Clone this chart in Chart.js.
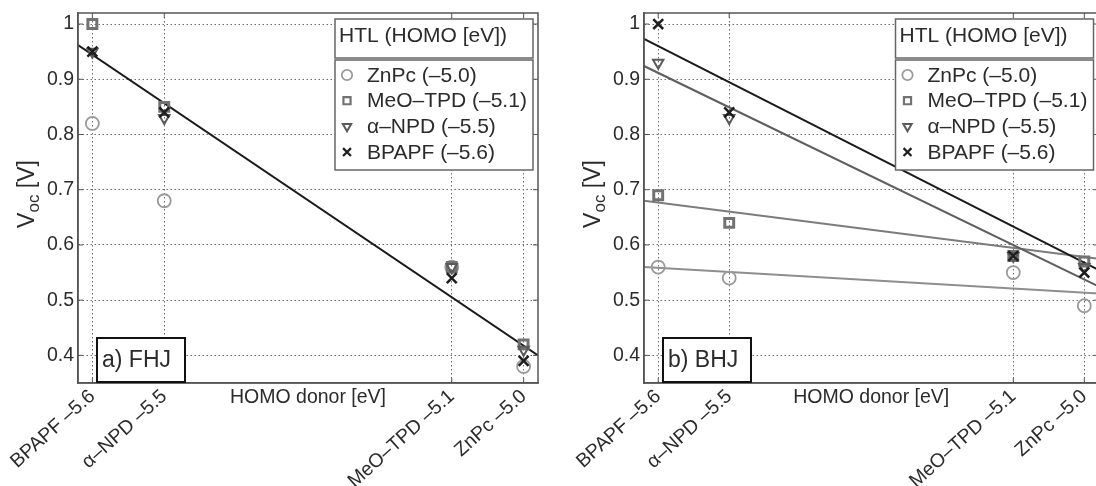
<!DOCTYPE html>
<html>
<head>
<meta charset="utf-8">
<script src="https://cdn.jsdelivr.net/npm/chart.js@4.4.1/dist/chart.umd.min.js"></script>
<style>
    html, body { margin: 0; padding: 0; background: #fff; overflow: hidden; width: 1096px; height: 486px; }
    #fhjChart { position: absolute; left: 0; top: 0; }
    #bhjChart { position: absolute; left: 548px; top: 0; }
</style>
</head>
<body>
<canvas id="fhjChart" width="548" height="486"></canvas>
<canvas id="bhjChart" width="560" height="486"></canvas>
<script>
const homo_values = [-5.6, -5.5, -5.1, -5.0];
const homo_labels = ["BPAPF –5.6", "α–NPD –5.5", "MeO–TPD –5.1", "ZnPc –5.0"];
const voc_ticks = [0.4, 0.5, 0.6, 0.7, 0.8, 0.9, 1.0];
const htl_names = ["ZnPc (–5.0)", "MeO–TPD (–5.1)", "α–NPD (–5.5)", "BPAPF (–5.6)"];

// Voc [V] per donor, same order as homo_values
const fhj_znpc = [0.82, 0.68, 0.56, 0.38];
const fhj_meotpd = [1.00, 0.85, 0.56, 0.42];
const fhj_anpd = [0.95, 0.83, 0.56, 0.41];
const fhj_bpapf = [0.95, 0.84, 0.54, 0.39];

const bhj_znpc = [0.56, 0.54, 0.55, 0.49];
const bhj_meotpd = [0.69, 0.64, 0.58, 0.57];
const bhj_anpd = [0.93, 0.83, 0.58, 0.56];
const bhj_bpapf = [1.00, 0.84, 0.58, 0.55];

// fit lines, read at both ends of the x range
const fit_x = [-5.62, -4.98];
const fhj_fit = [0.962, 0.400];
const bhj_fit_znpc = [0.560, 0.512];
const bhj_fit_meotpd = [0.680, 0.575];
const bhj_fit_anpd = [0.924, 0.525];
const bhj_fit_bpapf = [0.973, 0.555];

const text_color = "#2b2b2b";
const font_family = "'Liberation Sans', Arial, sans-serif";

// marker look per HTL (index matches htl_names)
const htl_styles = [
    { pointStyle: "circle", color: "#9a9a9a", radius: 6.5, rotation: 0, width: 1.8 },
    { pointStyle: "rect", color: "#727272", radius: 6.3, rotation: 0, width: 3 },
    { pointStyle: "triangle", color: "#5a5a5a", radius: 6, rotation: 180, width: 2 },
    { pointStyle: "crossRot", color: "#1e1e1e", radius: 7, rotation: 0, width: 2.5 },
];

Chart.defaults.font.family = font_family;
Chart.defaults.animation = false;

function pointDataset(values, i) {
    const s = htl_styles[i];
    return {
        label: htl_names[i],
        data: homo_values.map((x, k) => ({ x: x, y: values[k] })),
        pointStyle: s.pointStyle,
        pointRadius: s.radius,
        pointRotation: s.rotation,
        pointBorderWidth: s.width,
        pointBorderColor: s.color,
        pointBackgroundColor: "rgba(0,0,0,0)",
        showLine: false,
    };
}

function fitDataset(values, color) {
    return {
        label: "fit",
        data: fit_x.map((x, k) => ({ x: x, y: values[k] })),
        showLine: true,
        borderColor: color,
        borderWidth: 2,
        pointRadius: 0,
    };
}

function drawYTitle(ctx, area) {
    ctx.save();
    ctx.translate(area.left - 51, (area.top + area.bottom) / 2 - 4);
    ctx.rotate(-Math.PI / 2);
    ctx.fillStyle = text_color;
    ctx.textBaseline = "alphabetic";
    const big = "23px " + font_family;
    const small = "17px " + font_family;
    ctx.font = big;
    const w1 = ctx.measureText("V").width;
    const w3 = ctx.measureText(" [V]").width;
    ctx.font = small;
    const w2 = ctx.measureText("oc").width;
    let x = -(w1 + w2 + w3) / 2;
    ctx.font = big;
    ctx.fillText("V", x, 7);
    x += w1;
    ctx.font = small;
    ctx.fillText("oc", x, 12);
    x += w2;
    ctx.font = big;
    ctx.fillText(" [V]", x, 7);
    ctx.restore();
}

function drawLegend(ctx, area) {
    const w = 198;
    const left = area.right - 5 - w;
    const top = area.top + 6;
    ctx.save();
    ctx.fillStyle = "#fff";
    ctx.fillRect(left, top, w, 151);
    ctx.strokeStyle = "#666";
    ctx.lineWidth = 1.5;
    ctx.strokeRect(left, top, w, 39);
    ctx.strokeRect(left, top + 41, w, 110);
    ctx.fillStyle = text_color;
    ctx.font = "21px " + font_family;
    ctx.textBaseline = "middle";
    ctx.fillText("HTL (HOMO [eV])", left + 4, top + 17);
    htl_names.forEach((name, i) => {
        const s = htl_styles[i];
        const y = top + 56 + i * 25.7;
        ctx.strokeStyle = s.color;
        ctx.fillStyle = "rgba(0,0,0,0)";
        ctx.lineWidth = Math.min(s.width, 2.2);
        Chart.helpers.drawPoint(ctx, {
            pointStyle: s.pointStyle,
            radius: s.radius * 0.8,
            rotation: s.rotation,
            borderWidth: ctx.lineWidth,
        }, left + 12, y);
        ctx.fillStyle = text_color;
        ctx.fillText(name, left + 32, y + 1);
    });
    ctx.restore();
}

function drawPanelLabel(ctx, area, label) {
    const left = area.left + 19;
    const h = 44;
    const top = area.bottom - h - 1;
    ctx.save();
    ctx.fillStyle = "#fff";
    ctx.fillRect(left, top, 88, h);
    ctx.strokeStyle = "#111";
    ctx.lineWidth = 2;
    ctx.strokeRect(left, top, 88, h);
    ctx.fillStyle = text_color;
    ctx.font = "23px " + font_family;
    ctx.textBaseline = "middle";
    ctx.fillText(label, left + 5, top + h / 2 + 1);
    ctx.restore();
}

const framePlugin = {
    id: "frame",
    afterDraw(chart, args, opts) {
        const { ctx, chartArea: a, scales } = chart;
        ctx.save();
        ctx.strokeStyle = "#555";
        ctx.lineWidth = 1.5;
        ctx.strokeRect(a.left, a.top, a.right - a.left, a.bottom - a.top);
        ctx.lineWidth = 1;
        ctx.beginPath();
        scales.y.ticks.forEach((t) => {
            const y = scales.y.getPixelForValue(t.value);
            ctx.moveTo(a.left, y); ctx.lineTo(a.left + 5, y);
            ctx.moveTo(a.right - 5, y); ctx.lineTo(a.right, y);
        });
        scales.x.ticks.forEach((t) => {
            const x = scales.x.getPixelForValue(t.value);
            ctx.moveTo(x, a.bottom); ctx.lineTo(x, a.bottom - 5);
            ctx.moveTo(x, a.top); ctx.lineTo(x, a.top + 5);
        });
        ctx.stroke();
        ctx.restore();
        drawYTitle(ctx, a);
        drawPanelLabel(ctx, a, opts.panelLabel);
        drawLegend(ctx, a);
    },
};

function makeScales(y_axis_width) {
    const grid = { color: "#6e6e6e", lineWidth: 1, drawTicks: false };
    const border = { color: "#555", width: 1.5, dash: [1.5, 2.5] };
    return {
        x: {
            type: "linear",
            min: -5.62,
            max: -4.98,
            afterBuildTicks: (scale) => { scale.ticks = homo_values.map((v) => ({ value: v })); },
            afterFit: (scale) => { scale.height = 103; scale.paddingLeft = 0; scale.paddingRight = 0; },
            ticks: {
                autoSkip: false,
                minRotation: 42,
                maxRotation: 42,
                padding: 2,
                color: text_color,
                font: { size: 19.5 },
                callback: (value, index) => homo_labels[index],
            },
            title: {
                display: true,
                text: "HOMO donor [eV]",
                color: text_color,
                font: { size: 19.5 },
                padding: { top: 0, bottom: 77 },
            },
            grid: grid,
            border: border,
        },
        y: {
            type: "linear",
            min: 0.35,
            max: 1.02,
            afterBuildTicks: (scale) => { scale.ticks = voc_ticks.map((v) => ({ value: v })); },
            afterFit: (scale) => { scale.width = y_axis_width; scale.paddingTop = 0; scale.paddingBottom = 0; },
            ticks: {
                padding: 4,
                color: text_color,
                font: { size: 19.5 },
                callback: (value) => String(+value.toFixed(1)),
            },
            grid: grid,
            border: border,
        },
    };
}

function drawPanel(canvas_id, datasets, y_axis_width, right_pad, panel_label) {
    new Chart(document.getElementById(canvas_id), {
        type: "scatter",
        data: { datasets: datasets },
        options: {
            responsive: false,
            devicePixelRatio: 1,
            layout: { padding: { left: 0, right: right_pad, top: 13, bottom: 0 } },
            scales: makeScales(y_axis_width),
            plugins: {
                legend: { display: false },
                tooltip: { enabled: false },
                frame: { panelLabel: panel_label },
            },
        },
        plugins: [framePlugin],
    });
}

drawPanel("fhjChart", [
    pointDataset(fhj_bpapf, 3),
    pointDataset(fhj_anpd, 2),
    pointDataset(fhj_meotpd, 1),
    pointDataset(fhj_znpc, 0),
    fitDataset(fhj_fit, "#1a1a1a"),
], 78, 10, "a) FHJ");

drawPanel("bhjChart", [
    pointDataset(bhj_bpapf, 3),
    pointDataset(bhj_anpd, 2),
    pointDataset(bhj_meotpd, 1),
    pointDataset(bhj_znpc, 0),
    fitDataset(bhj_fit_bpapf, "#1a1a1a"),
    fitDataset(bhj_fit_anpd, "#5e5e5e"),
    fitDataset(bhj_fit_meotpd, "#7c7c7c"),
    fitDataset(bhj_fit_znpc, "#8e8e8e"),
], 96, 6, "b) BHJ");
</script>
</body>
</html>
